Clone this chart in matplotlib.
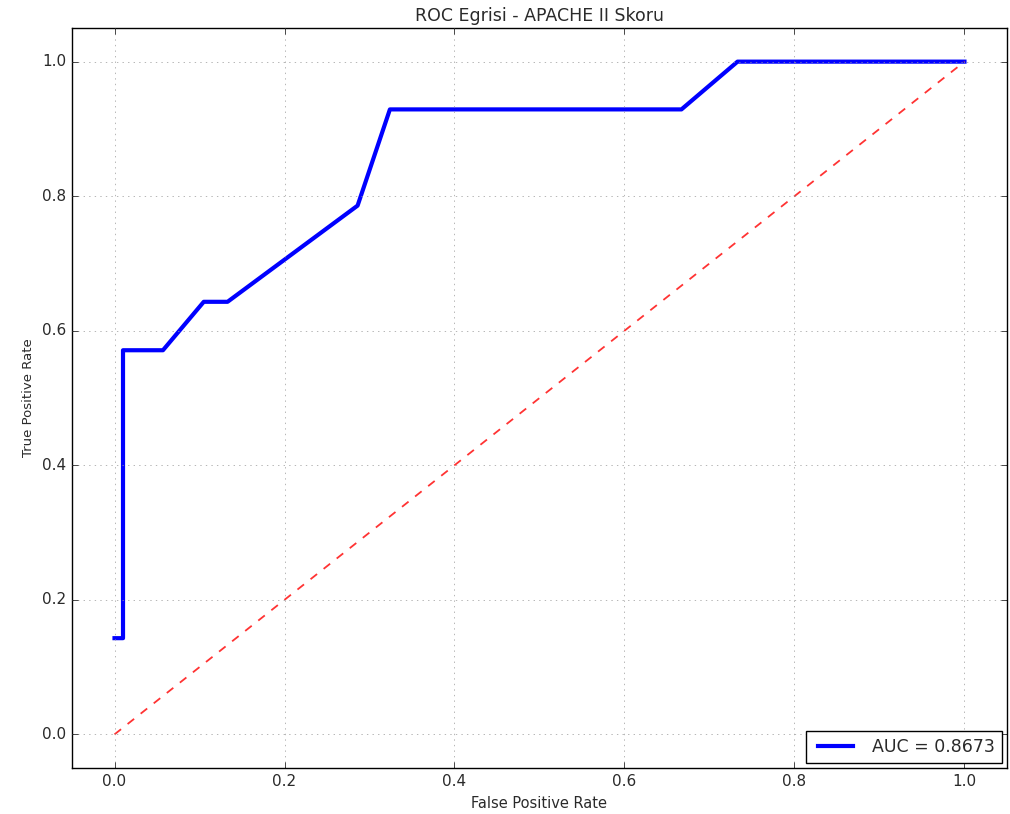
import matplotlib
matplotlib.use("Agg")
import matplotlib.pyplot as plt

plt.style.use("classic")

# ROC points
fpr = [0.0, 0.01, 0.01, 0.057, 0.105, 0.133, 0.286, 0.324, 0.667, 0.733, 1.0]
tpr = [0.143, 0.143, 0.571, 0.571, 0.643, 0.643, 0.786, 0.929, 0.929, 1.0, 1.0]
auc_value = 0.8673
diag = [0.0, 1.0]

txt = '#2a2a2a'

fig = plt.figure(figsize=(10.1, 8.14), dpi=100)
ax = fig.add_axes((0.0713, 0.0565, 0.9257, 0.9091))

ax.plot(fpr, tpr, 'b', linewidth=3, label='AUC = %0.4f' % auc_value)
ax.plot(diag, diag, 'r--', linewidth=1.3, alpha=0.8)

ax.set_xlim(-0.05, 1.05)
ax.set_ylim(-0.05, 1.05)
ax.set_xticks([0.0, 0.2, 0.4, 0.6, 0.8, 1.0])
ax.set_yticks([0.0, 0.2, 0.4, 0.6, 0.8, 1.0])
ax.tick_params(labelsize=11, labelcolor=txt)
ax.grid(True, color='#999999')

ax.set_title('ROC Egrisi - APACHE II Skoru', fontsize=12.5, color=txt)
ax.set_xlabel('False Positive Rate', fontsize=10.5, color=txt)
ax.set_ylabel('True Positive Rate', fontsize=9.5, color=txt)
leg = ax.legend(loc='lower right', fontsize=12.5, borderaxespad=0.3,
                handlelength=2.6)
for t in leg.get_texts():
    t.set_color(txt)

fig.savefig('out.png', dpi=100)
